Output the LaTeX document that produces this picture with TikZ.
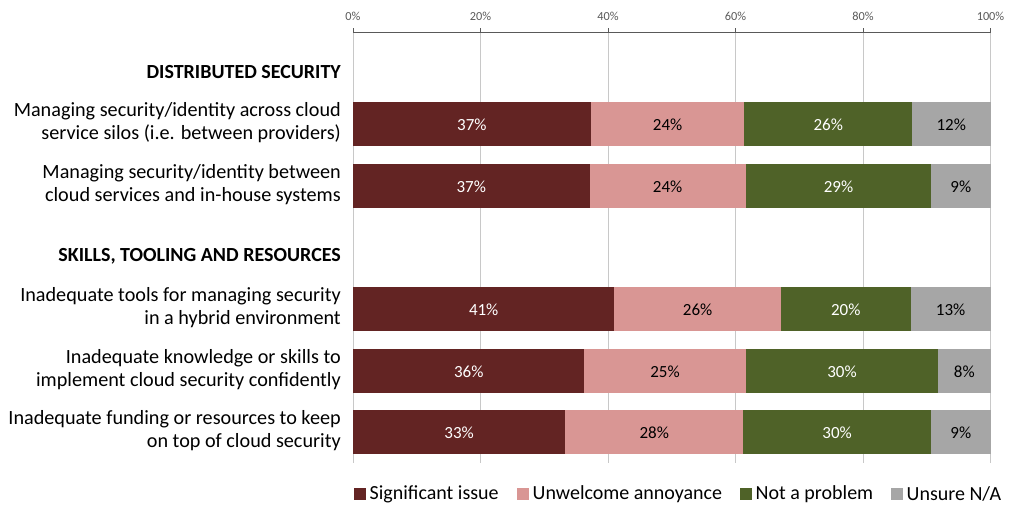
\documentclass[tikz,border=0pt]{standalone}
\usepackage{fontspec}
\setmainfont{Carlito}
\definecolor{cSig}{HTML}{632423}
\definecolor{cUnw}{HTML}{D99694}
\definecolor{cNot}{HTML}{4F6228}
\definecolor{cUns}{HTML}{A6A6A6}
\definecolor{gridc}{HTML}{C8C8C8}
\definecolor{axisc}{HTML}{595959}
\tikzset{
  gridline/.style={draw=gridc, line width=1pt},
  axisline/.style={draw=axisc, line width=1pt},
  ticklbl/.style={font=\fontsize{12.3}{14}\selectfont, text=axisc, inner sep=0pt},
  catlbl/.style={font=\fontsize{20.2}{23}\selectfont, align=right, anchor=east, inner sep=0pt},
  headlbl/.style={font=\fontsize{20}{22}\selectfont\bfseries, anchor=east, inner sep=0pt},
  barlblw/.style={font=\fontsize{17}{19}\selectfont, text=white, inner sep=0pt},
  barlblk/.style={font=\fontsize{17}{19}\selectfont, text=black, inner sep=0pt},
  legtxt/.style={font=\fontsize{20}{22}\selectfont, anchor=west, inner sep=0pt},
  legsq/.style={minimum size=12pt, inner sep=0pt, anchor=west},
}
\begin{document}
\begin{tikzpicture}[x=1pt,y=-1pt]
\useasboundingbox (0,0) rectangle (1020,506);
% gridlines and axis
\foreach \p in {0,20,40,60,80,100} {
  \draw[gridline] ({353+6.375*\p},32) -- ({353+6.375*\p},463);
  \draw[axisline] ({353+6.375*\p},28) -- ({353+6.375*\p},32);
  \node[ticklbl] (t\p) at ({353+6.375*\p},16) {\p\%};
}
\draw[axisline] (353,32) -- (990.5,32);
% bars
\foreach \r/\t/\a/\b/\c/\d/\la/\lb/\lc/\ld in {
  1/102.3/37.3/24.1/26.3/12.3/37/24/26/12,
  2/164/37.1/24.5/29.1/9.3/37/24/29/9,
  3/287.3/41.0/26.1/20.4/12.5/41/26/20/13,
  4/349/36.3/25.3/30.2/8.2/36/25/30/8,
  5/410.3/33.3/27.9/29.5/9.3/33/28/30/9} {
  \pgfmathsetmacro\xa{353+6.375*\a}
  \pgfmathsetmacro\xb{\xa+6.375*\b}
  \pgfmathsetmacro\xc{\xb+6.375*\c}
  \pgfmathsetmacro\ym{\t+22.3}
  \fill[cSig] (353,\t) rectangle (\xa,\t+43.5);
  \fill[cUnw] (\xa,\t) rectangle (\xb,\t+43.5);
  \fill[cNot] (\xb,\t) rectangle (\xc,\t+43.5);
  \fill[cUns] (\xc,\t) rectangle (990.5,\t+43.5);
  \node[barlblw] (b\r a) at ({(353+\xa)/2},\ym) {\la\%};
  \node[barlblk] (b\r b) at ({(\xa+\xb)/2},\ym) {\lb\%};
  \node[barlblw] (b\r c) at ({(\xb+\xc)/2},\ym) {\lc\%};
  \node[barlblk] (b\r d) at ({(\xc+990.5)/2},\ym) {\ld\%};
}
% headers
\node[headlbl] (h1) at (341,72) {DISTRIBUTED SECURITY};
\node[headlbl] (h2) at (341,256) {SKILLS, TOOLING AND RESOURCES};
% category labels
\node[catlbl] (c1) at (341,123) {Managing security/identity across cloud\\service silos (i.e. between providers)};
\node[catlbl] (c2) at (341,185) {Managing security/identity between\\cloud services and in-house systems};
\node[catlbl] (c3) at (341,308) {Inadequate tools for managing security\\in a hybrid environment};
\node[catlbl] (c4) at (341,370) {Inadequate knowledge or skills to\\implement cloud security confidently};
\node[catlbl] (c5) at (341,431) {Inadequate funding or resources to keep\\on top of cloud security};
% legend
\node[legsq, fill=cSig] (s1) at (353.5,494) {};
\node[legtxt] (l1) at (369.5,494) {Significant issue};
\node[legsq, fill=cUnw] (s2) at (516.5,494) {};
\node[legtxt] (l2) at (532.5,494) {Unwelcome annoyance};
\node[legsq, fill=cNot] (s3) at (739.5,494) {};
\node[legtxt] (l3) at (755.5,494) {Not a problem};
\node[legsq, fill=cUns] (s4) at (890.5,494) {};
\node[legtxt] (l4) at (906.5,494) {Unsure N/A};
\end{tikzpicture}
\end{document}
